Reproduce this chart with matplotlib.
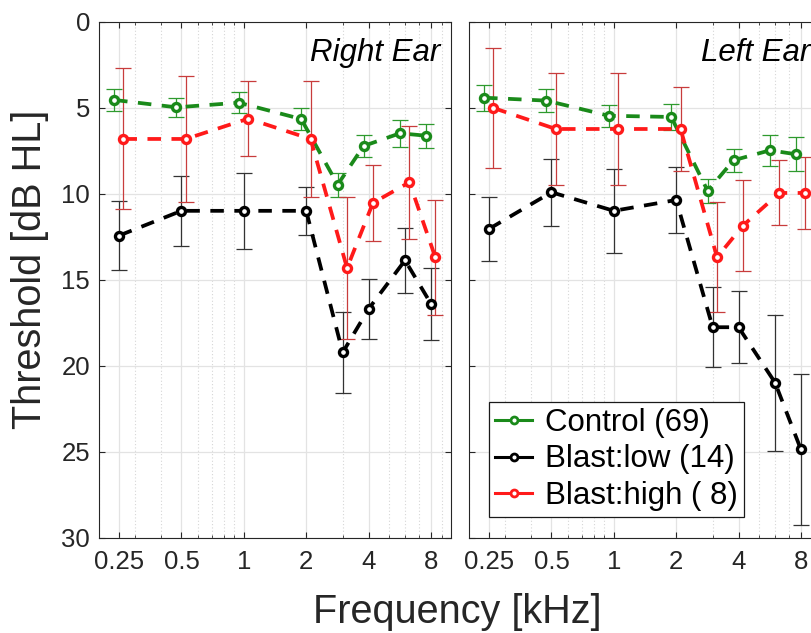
import matplotlib
matplotlib.use('Agg')
import matplotlib.pyplot as plt
from matplotlib.lines import Line2D
from matplotlib.ticker import FixedLocator, NullFormatter, LogLocator, FixedFormatter

plt.rcParams['font.family'] = ['Liberation Sans', 'DejaVu Sans']

# ---------------- data ----------------
freqs = [0.25, 0.5, 1, 2, 3, 4, 6, 8]
xtick_vals = [0.25, 0.5, 1, 2, 4, 8]
xtick_labels = ['0.25', '0.5', '1', '2', '4', '8']
ytick_vals = [0, 5, 10, 15, 20, 25, 30]
group_labels = ['Control (69)', 'Blast:low (14)', 'Blast:high ( 8)']
panel_titles = ['Right Ear', 'Left Ear']

# Right ear
right_control = [4.55, 4.98, 4.71, 5.66, 9.48, 7.23, 6.49, 6.63]
right_control_err = [0.65, 0.55, 0.60, 0.65, 0.70, 0.65, 0.78, 0.70]
right_low = [12.44, 11.0, 11.0, 11.0, 19.24, 16.71, 13.88, 16.40]
right_low_err = [2.0, 2.05, 2.2, 1.4, 2.35, 1.77, 1.9, 2.1]
right_high = [6.82, 6.82, 5.64, 6.82, 14.33, 10.54, 9.34, 13.70]
right_high_err = [4.1, 3.65, 2.17, 3.35, 4.15, 2.2, 3.3, 3.35]

# Left ear
left_control = [4.42, 4.59, 5.47, 5.54, 9.84, 8.06, 7.48, 7.71]
left_control_err = [0.75, 0.67, 0.64, 0.78, 0.72, 0.68, 0.90, 1.0]
left_low = [12.05, 9.92, 11.0, 10.37, 17.77, 17.77, 20.99, 24.88]
left_low_err = [1.86, 1.96, 2.44, 1.91, 2.32, 2.08, 3.96, 4.4]
left_high = [5.02, 6.24, 6.24, 6.24, 13.70, 11.86, 9.96, 9.96]
left_high_err = [3.5, 3.23, 3.23, 2.46, 3.2, 2.65, 1.89, 2.1]

panels = [
    [(right_control, right_control_err), (right_low, right_low_err), (right_high, right_high_err)],
    [(left_control, left_control_err), (left_low, left_low_err), (left_high, left_high_err)],
]

# ---------------- style ----------------
line_colors = ['#1a8a1a', '#000000', '#ff1a1a']
err_colors = ['#2e9a2e', '#333333', '#c83c3c']
x_shift = [0.946, 1.0, 1.05]

W, H = 812, 633
fig = plt.figure(figsize=(W / 100, H / 100), dpi=100)

ax_bottom = (H - 537.5) / H
ax_height = (537.5 - 21.7) / H
ax_w = 352 / W
lefts = [99 / W, 469 / W]

axes = []
for pi, left in enumerate(lefts):
    ax = fig.add_axes([left, ax_bottom, ax_w, ax_height])
    axes.append(ax)
    ax.set_xscale('log')
    ax.set_xlim(0.2, 10)
    ax.set_ylim(30, 0)

    ax.xaxis.set_major_locator(FixedLocator(xtick_vals))
    ax.xaxis.set_major_formatter(FixedFormatter(xtick_labels))
    ax.xaxis.set_minor_locator(LogLocator(base=10, subs=[2, 3, 4, 5, 6, 7, 8, 9]))
    ax.xaxis.set_minor_formatter(NullFormatter())
    ax.yaxis.set_major_locator(FixedLocator(ytick_vals))

    ax.grid(True, which='major', axis='both', color='#e3e3e3', lw=0.9, ls='-')
    ax.grid(True, which='minor', axis='x', color='#d6d6d6', lw=0.8, ls=(0, (1, 2)))
    ax.set_axisbelow(True)

    ax.tick_params(which='both', direction='in', top=True, right=True,
                   colors='#262626', labelcolor='#262626')
    ax.tick_params(which='major', length=4.5, width=0.8, labelsize=18.5)
    ax.tick_params(which='minor', length=2.5, width=0.6)
    ax.tick_params(axis='x', which='major', pad=9)
    ax.tick_params(axis='y', which='major', pad=6.5)
    if pi == 1:
        ax.tick_params(axis='y', labelleft=False)
    for s in ax.spines.values():
        s.set_color('#262626')
        s.set_linewidth(0.8)

    for gi, (vals, errs) in enumerate(panels[pi]):
        xs = [f * x_shift[gi] for f in freqs]
        ax.errorbar(xs, vals, yerr=errs, fmt='none', ecolor=err_colors[gi],
                    elinewidth=0.9, capsize=6, capthick=0.9, zorder=3 + gi)
        ax.plot(xs, vals, color=line_colors[gi], lw=2.7, ls=(0, (3.6, 2.8)),
                marker='o', ms=5.8, mew=2.4, mfc='white', mec=line_colors[gi],
                zorder=6 + gi)

    ax.text(0.9688, (537.5 - 60.7) / (537.5 - 21.7), panel_titles[pi],
            transform=ax.transAxes, ha='right', va='baseline',
            fontsize=22.5, style='italic', color='black')

handles = [Line2D([0], [0], color=c, lw=2.2, marker='o', ms=5, mew=2,
                  mfc='white', mec=c) for c in line_colors]
leg = axes[1].legend(handles, group_labels, loc='lower left',
                     bbox_to_anchor=((489 - 469) / 352, (537.5 - 517) / (537.5 - 21.7)),
                     borderaxespad=0, fontsize=22.5, frameon=True, fancybox=False,
                     framealpha=1, edgecolor='#1a1a1a', borderpad=0.2,
                     labelspacing=0.2, handlelength=1.18, handletextpad=0.42)
leg.get_frame().set_linewidth(0.9)
leg.set_zorder(20)

fig.text(457 / W, (H - 623) / H, 'Frequency [kHz]', ha='center', va='baseline',
         fontsize=28.5, color='#262626')
fig.text(30 / W, (H - 269) / H, 'Threshold [dB HL]', ha='center', va='center',
         rotation=90, fontsize=28.5, color='#262626')

fig.savefig('out.png', dpi=100)
